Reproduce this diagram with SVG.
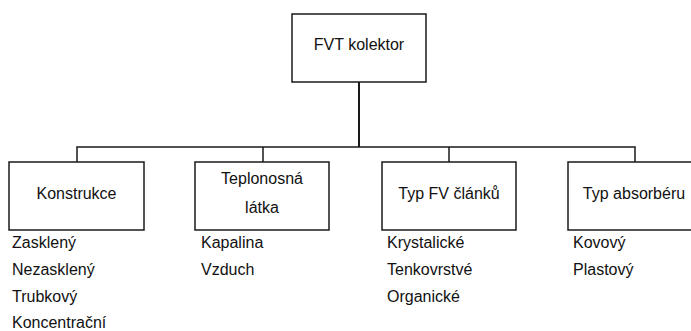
<svg xmlns="http://www.w3.org/2000/svg" width="691" height="331" viewBox="0 0 691 331">
<style>
.box{fill:#fff;stroke:#1a1a1a;stroke-width:1.5}
.ln{fill:none;stroke:#1a1a1a;stroke-width:1.5}
text{font-family:"Liberation Sans",Arial,sans-serif;font-size:16px;fill:#111}
.c{text-anchor:middle}
</style>
<rect width="691" height="331" fill="#fff"/>
<g id="connectors">
<path class="ln" d="M359 82V147" style="stroke-width:2"/>
<path class="ln" d="M77 162V147H635V162M263 147V162M449 147V162"/>
</g>
<g id="root">
<rect class="box" x="292" y="14" width="134" height="68"/>
<text class="c" x="359" y="50">FVT kolektor</text>
</g>
<g id="konstrukce">
<rect class="box" x="9" y="162" width="135" height="68"/>
<text class="c" x="76.5" y="199">Konstrukce</text>
<text x="12" y="248">Zasklený</text>
<text x="12" y="275">Nezasklený</text>
<text x="12" y="302">Trubkový</text>
<text x="12" y="328">Koncentrační</text>
</g>
<g id="teplonosna">
<rect class="box" x="195" y="162" width="134" height="68"/>
<text class="c" x="262" y="184">Teplonosná</text>
<text class="c" x="262" y="213">látka</text>
<text x="201" y="248">Kapalina</text>
<text x="201" y="275">Vzduch</text>
</g>
<g id="typfv">
<rect class="box" x="382" y="162" width="134" height="68"/>
<text class="c" x="449" y="199">Typ FV článků</text>
<text x="387" y="248">Krystalické</text>
<text x="387" y="275">Tenkovrstvé</text>
<text x="387" y="302">Organické</text>
</g>
<g id="absorber">
<rect class="box" x="568" y="162" width="134" height="68"/>
<text class="c" x="634" y="199">Typ absorbéru</text>
<text x="573" y="248">Kovový</text>
<text x="573" y="275">Plastový</text>
</g>
</svg>
